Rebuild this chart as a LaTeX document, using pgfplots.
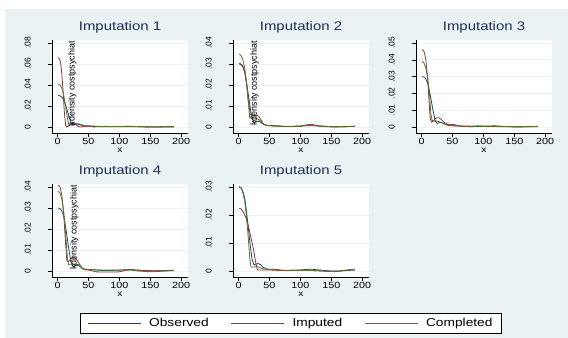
\documentclass[border=0pt]{standalone}
\usepackage{fontspec}
\setmainfont{Liberation Sans}
\usepackage{pgfplots}
\usepackage{pgfplotstable}
\pgfplotsset{compat=1.18}
\definecolor{bgc}{RGB}{234,242,243}
\definecolor{sobs}{RGB}{26,71,111}
\definecolor{simp}{RGB}{144,53,59}
\definecolor{scom}{RGB}{85,117,47}
\definecolor{ttl}{RGB}{30,45,85}
\newcommand{\wx}[1]{\scalebox{1.2}[1]{#1}}

\pgfplotstableread{
x y
1 0.0300
4 0.0297
7 0.0285
10 0.0260
13 0.0210
16 0.0150
19 0.0090
22 0.0040
25 0.0022
28 0.0025
32 0.0027
36 0.0022
40 0.0013
45 0.0008
50 0.0007
60 0.0006
70 0.0003
80 0.0002
90 0.0003
100 0.0004
110 0.0006
118 0.0007
126 0.0005
135 0.0003
145 0.0001
155 0.0000
165 0.0001
175 0.0002
182 0.0003
188 0.0004
}\obs

\tikzset{kd/.style={rotate=90, anchor=west, font=\fontsize{9}{9}\selectfont, inner sep=0.5bp}}
\pgfplotsset{
 panel/.style={
   scale only axis, width=136bp, height=93bp,
   clip mode=individual,
   axis background/.style={fill=white},
   axis x line*=bottom, axis y line*=left,
   axis line style={black, line width=0.6bp},
   tick align=outside, major tick length=4bp,
   tick style={black, line width=0.6bp},
   xmin=-9, xmax=211,
   xtick={0,50,100,150,200},
   xticklabels={\wx{0},\wx{50},\wx{100},\wx{150},\wx{200}},
   scaled y ticks=false,
   /pgf/number format/assume math mode=true,
   xticklabel style={font=\fontsize{9}{9}\selectfont, anchor=north, inner sep=0pt, yshift=-1.5bp},
   yticklabel style={font=\fontsize{8.5}{8.5}\selectfont, rotate=90, anchor=south, inner sep=0pt},
   yticklabel shift=17bp,
   ymajorgrids, grid style={bgc, line width=0.8bp},
   xlabel={\wx{x}},
   xlabel style={font=\fontsize{8.5}{8.5}\selectfont, at={(axis description cs:0.5,0)}, anchor=center, yshift=-17bp},
   title style={font=\fontsize{12.5}{12.5}\selectfont, color=ttl, at={(axis description cs:0.5,1)}, anchor=base, yshift=3.5bp, inner sep=0pt},
   every axis plot/.append style={line width=0.8bp, no marks},
 },
}

\begin{document}
\begin{tikzpicture}
\useasboundingbox (0bp,0bp) rectangle (568bp,338bp);
\fill[white] (0bp,0bp) rectangle (568bp,338bp);
\fill[bgc] (5bp,0bp) rectangle (568bp,329bp);

% Panel 1
\begin{axis}[panel, at={(52bp,205bp)}, anchor=south west,
  title={\wx{Imputation 1}},
  ymin=-0.0057, ymax=0.0829,
  ytick={0,0.02,0.04,0.06,0.08}, yticklabels={0,.02,.04,.06,.08}]
\addplot[sobs] table {\obs};
\addplot[simp] coordinates {(1,0.066) (3,0.065) (5,0.061) (7,0.050) (9,0.033) (11,0.014) (13,0.002) (15,0.000) (18,0.001) (21,0.003) (24,0.0045) (27,0.004) (30,0.002) (33,0.0005) (37,0.000) (45,0.0008) (52,0.0010) (58,0.000) (65,0.0004) (75,0.0006) (90,0.0005) (110,0.0003) (130,0.0002) (150,0.0001) (170,0.0001) (188,0.0001)};
\addplot[scom] coordinates {(1,0.041) (4,0.040) (7,0.037) (10,0.030) (13,0.020) (16,0.008) (18,0.003) (21,0.003) (25,0.0035) (30,0.0033) (35,0.003) (40,0.002) (45,0.0013) (55,0.001) (70,0.0005) (90,0.0005) (110,0.0006) (130,0.0004) (150,0.0002) (170,0.0002) (188,0.0003)};
\node[kd] at (axis cs:24,0.0003) {kdensity costpsychiat};
\end{axis}

% Panel 2
\begin{axis}[panel, at={(233bp,205bp)}, anchor=south west,
  title={\wx{Imputation 2}},
  ymin=-0.00286, ymax=0.0414,
  ytick={0,0.01,0.02,0.03,0.04}, yticklabels={0,.01,.02,.03,.04}]
\addplot[sobs] table {\obs};
\addplot[simp] coordinates {(1,0.0303) (4,0.0300) (7,0.029) (10,0.026) (13,0.020) (16,0.012) (19,0.006) (22,0.0055) (26,0.0055) (30,0.0055) (33,0.005) (36,0.0035) (40,0.0015) (45,0.0007) (55,0.0005) (70,0.0003) (85,0.0002) (100,0.0004) (110,0.001) (116,0.0013) (122,0.001) (130,0.0005) (145,0.0002) (160,0.0001) (175,0.0002) (188,0.0003)};
\addplot[scom] coordinates {(1,0.0348) (4,0.034) (7,0.032) (10,0.028) (13,0.021) (16,0.011) (18,0.0045) (21,0.004) (25,0.0042) (30,0.004) (35,0.003) (40,0.0015) (45,0.0008) (55,0.0005) (70,0.0004) (85,0.0003) (100,0.0005) (110,0.0008) (120,0.0008) (130,0.0005) (150,0.0002) (170,0.0001) (188,0.0003)};
\node[kd] at (axis cs:26,0.0002) {kdensity costpsychiat};
\end{axis}

% Panel 3
\begin{axis}[panel, at={(416bp,205bp)}, anchor=south west,
  title={\wx{Imputation 3}},
  ymin=-0.00357, ymax=0.0518,
  ytick={0,0.01,0.02,0.03,0.04,0.05}, yticklabels={0,.01,.02,.03,.04,.05}]
\addplot[sobs] table {\obs};
\addplot[simp] coordinates {(1,0.046) (4,0.045) (7,0.040) (10,0.028) (12,0.016) (14,0.005) (16,0.003) (19,0.0035) (22,0.005) (25,0.0055) (28,0.0055) (32,0.0045) (36,0.003) (40,0.002) (45,0.0015) (50,0.0015) (55,0.0013) (60,0.0007) (70,0.0003) (80,0.0004) (90,0.0007) (95,0.0006) (110,0.0003) (130,0.0002) (150,0.0001) (170,0.0001) (188,0.0002)};
\addplot[scom] coordinates {(1,0.039) (4,0.038) (7,0.035) (10,0.029) (13,0.019) (15,0.008) (17,0.004) (20,0.0035) (25,0.0035) (30,0.003) (35,0.0022) (40,0.0015) (50,0.001) (60,0.0006) (80,0.0005) (100,0.0004) (120,0.0004) (140,0.0003) (160,0.0002) (188,0.0003)};
\end{axis}

% Panel 4
\begin{axis}[panel, at={(52bp,61bp)}, anchor=south west,
  title={\wx{Imputation 4}},
  ymin=-0.00286, ymax=0.0414,
  ytick={0,0.01,0.02,0.03,0.04}, yticklabels={0,.01,.02,.03,.04}]
\addplot[sobs] table {\obs};
\addplot[simp] coordinates {(1,0.041) (4,0.040) (7,0.036) (10,0.027) (13,0.013) (15,0.005) (17,0.0045) (20,0.005) (24,0.0065) (28,0.0065) (32,0.005) (36,0.003) (40,0.001) (45,0.0006) (55,0.0002) (62,-0.0004) (75,-0.0005) (90,-0.0005) (100,-0.0004) (110,0.0003) (118,0.0006) (125,0.0004) (140,0.0002) (160,0.0001) (188,0.0002)};
\addplot[scom] coordinates {(1,0.038) (4,0.037) (7,0.034) (10,0.028) (13,0.018) (16,0.006) (18,0.003) (22,0.003) (26,0.003) (30,0.003) (34,0.0032) (37,0.0025) (40,0.0013) (45,0.0008) (55,0.0006) (70,0.0004) (90,0.0004) (110,0.0005) (120,0.0004) (130,0.0) (145,-0.0003) (160,-0.0003) (175,0.0) (188,0.0002)};
\node[kd] at (axis cs:27,0.0002) {kdensity costpsychiat};
\end{axis}

% Panel 5 with legend
\begin{axis}[panel, at={(233bp,61bp)}, anchor=south west,
  title={\wx{Imputation 5}},
  ymin=-0.0021, ymax=0.0311,
  ytick={0,0.01,0.02,0.03}, yticklabels={0,.01,.02,.03},
  legend columns=3,
  legend style={at={(axis description cs:0.426,-0.5)}, anchor=center,
    draw=black, fill=white, line width=0.6bp,
    font=\fontsize{11.5}{11.5}\selectfont,
    nodes={inner sep=2bp},
    /tikz/every odd column/.append style={column sep=6bp},
    /tikz/every even column/.append style={column sep=20bp},
    inner xsep=7bp, inner ysep=3bp},
  legend image code/.code={\draw[#1, line width=0.8bp] (0bp,0bp) -- (53bp,0bp);}]
\addplot[sobs] table {\obs};
\addlegendentry{\wx{Observed}}
\addplot[simp] coordinates {(1,0.0225) (4,0.0222) (8,0.021) (12,0.019) (16,0.016) (20,0.012) (24,0.008) (27,0.004) (30,0.0008) (32,0.0004) (40,0.0004) (50,0.0004) (60,0.0003) (70,0.0002) (90,0.0003) (110,0.0003) (130,0.0001) (145,-0.0001) (160,-0.0001) (170,0.0002) (180,0.0005) (188,0.0005)};
\addlegendentry{\wx{Imputed}}
\addplot[scom] coordinates {(1,0.0302) (4,0.0298) (7,0.028) (10,0.025) (13,0.019) (16,0.011) (18,0.005) (20,0.0015) (25,0.0015) (30,0.0016) (35,0.0013) (40,0.0008) (50,0.0006) (60,0.0005) (70,0.0003) (90,0.0003) (110,0.0003) (130,0.0001) (150,-0.0001) (165,0.0) (175,0.0004) (188,0.0005)};
\addlegendentry{\wx{Completed}}
\end{axis}
\end{tikzpicture}
\end{document}
